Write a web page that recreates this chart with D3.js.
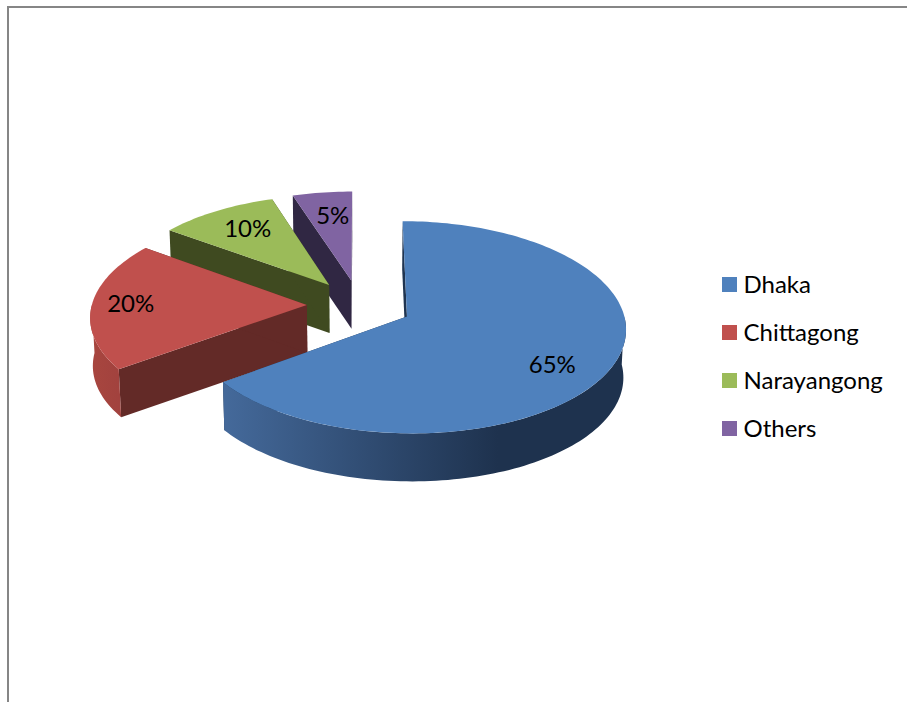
<!DOCTYPE html>
<html>
<head>
<meta charset="utf-8">
<script src="https://cdn.jsdelivr.net/npm/d3@7"></script>
<style>
  html, body { margin: 0; background: #fff; }
  svg { display: block; }
  text { font-family: Lato, "Open Sans", sans-serif; fill: #000; }
</style>
</head>
<body>
<svg id="chart" width="907" height="702"></svg>
<script>
// Market share by location
const categories = ["Dhaka", "Chittagong", "Narayangong", "Others"];
const shares = [65, 20, 10, 5];

// Per-slice palette: top face, cut face, rim light end, rim dark end
const topColors = ["#4f81bd", "#c0504d", "#9bbb59", "#8064a2"];
const cutColors = ["#1f3450", "#632a27", "#3f4a20", "#302743"];
const rimLight = ["#44699a", "#a8463f", "#7d9848", "#685283"];
const rimDark = ["#1e324e", "#a2423e", "#3f4a20", "#302743"];

const svg = d3.select("#chart");
const defs = svg.append("defs");

// Frame: only the top and left edges are drawn
svg.append("path")
  .attr("d", d3.line()([[907, 7], [8, 7], [8, 702]]))
  .attr("fill", "none")
  .attr("stroke", "#868686")
  .attr("stroke-width", 2);

// Tilted pie model
const centerX = 359.5, centerY = 305;
const radiusX = 215, radiusY = 102.7;
const perspective = 0.1;
const explosion = 0.245;
const depth = 48;
const depthShrink = 0.99;

const scaleU = d3.scaleLinear().domain([0, 1]).range([0, radiusX]);
const scaleV = d3.scaleLinear().domain([0, 1]).range([0, radiusY]);

// Project a point on the pie plane (u right, v away from the viewer)
function project(u, v, z) {
  const k = 1 / (1 + perspective * v);
  const x = centerX + scaleU(u) * k;
  const y = centerY - scaleV(v) * k;
  return z
    ? [centerX + (x - centerX) * depthShrink, y + depth]
    : [x, y];
}

const slices = d3.pie().sort(null)(shares).map((d, i) => {
  const mid = (d.startAngle + d.endAngle) / 2;
  return {
    index: i,
    a0: d.startAngle,
    a1: d.endAngle,
    mid,
    offU: explosion * Math.sin(mid),
    offV: explosion * Math.cos(mid)
  };
});

// Points in a slice's own frame, r in pie radii and a clockwise from the top
const at = (s, r, a, z) =>
  project(s.offU + r * Math.sin(a), s.offV + r * Math.cos(a), z);

function arcPoints(s, from, to, z) {
  const n = Math.max(8, Math.round((to - from) * 40));
  return d3.range(n + 1).map(i => at(s, 1, from + (to - from) * i / n, z));
}

const closed = d3.line().curve(d3.curveLinearClosed);

// Only the part of the rim turned towards the viewer can be seen
const rimFrom = Math.PI * 0.5, rimTo = Math.PI * 1.5;

// Back slices are painted first so nearer ones overlap them
const layers = svg.selectAll("g.slice")
  .data(slices.slice().reverse())
  .join("g")
  .attr("class", "slice");

layers.each(function (s) {
  const g = d3.select(this);

  // Radial cut faces
  [s.a0, s.a1].forEach(a => {
    g.append("path")
      .attr("d", closed([at(s, 0, a), at(s, 1, a), at(s, 1, a, true), at(s, 0, a, true)]))
      .attr("fill", cutColors[s.index]);
  });

  // Outer rim, shaded across its width
  const from = Math.max(s.a0, rimFrom), to = Math.min(s.a1, rimTo);
  if (to > from) {
    const rimTop = arcPoints(s, from, to);
    const rimBottom = arcPoints(s, from, to, true).reverse();
    const grad = defs.append("linearGradient")
      .attr("id", "rim" + s.index)
      .attr("gradientUnits", "userSpaceOnUse")
      .attr("x1", s.index === 0 ? 226 : d3.min(rimTop, p => p[0]))
      .attr("x2", s.index === 0 ? 498 : d3.max(rimTop, p => p[0]))
      .attr("y1", 0)
      .attr("y2", 0);
    grad.append("stop").attr("offset", 0).attr("stop-color", rimLight[s.index]);
    grad.append("stop").attr("offset", 1).attr("stop-color", rimDark[s.index]);

    g.append("path")
      .attr("d", closed(rimTop.concat(rimBottom)))
      .attr("fill", `url(#rim${s.index})`);
  }

  // Top face
  g.append("path")
    .attr("d", closed([at(s, 0, s.a0)].concat(arcPoints(s, s.a0, s.a1))))
    .attr("fill", topColors[s.index]);
});

// Percentage labels, placed in each slice's polar frame
const labelRadii = [0.768, 0.82, 0.73, 0.717];
const labelTurns = [0.14, 0.01, 0.02, 0.02];
const labelFont = 24;
const labelPoint = s => at(s, labelRadii[s.index], s.mid + labelTurns[s.index]);

svg.selectAll("text.value")
  .data(slices)
  .join("text")
  .attr("class", "value")
  .attr("text-anchor", "middle")
  .attr("font-size", labelFont)
  .attr("x", s => labelPoint(s)[0])
  .attr("y", s => labelPoint(s)[1] + 8)
  .text(s => shares[s.index] + "%");

// Legend
const legendY = d3.scalePoint().domain(categories).range([284.5, 428.5]);
const legend = svg.selectAll("g.legend")
  .data(categories)
  .join("g")
  .attr("class", "legend")
  .attr("transform", d => `translate(722,${legendY(d)})`);

legend.append("rect")
  .attr("y", -7.5)
  .attr("width", 15)
  .attr("height", 15)
  .attr("fill", (d, i) => topColors[i]);

legend.append("text")
  .attr("x", 21.5)
  .attr("y", 8)
  .attr("font-size", labelFont)
  .text(d => d);
</script>
</body>
</html>
